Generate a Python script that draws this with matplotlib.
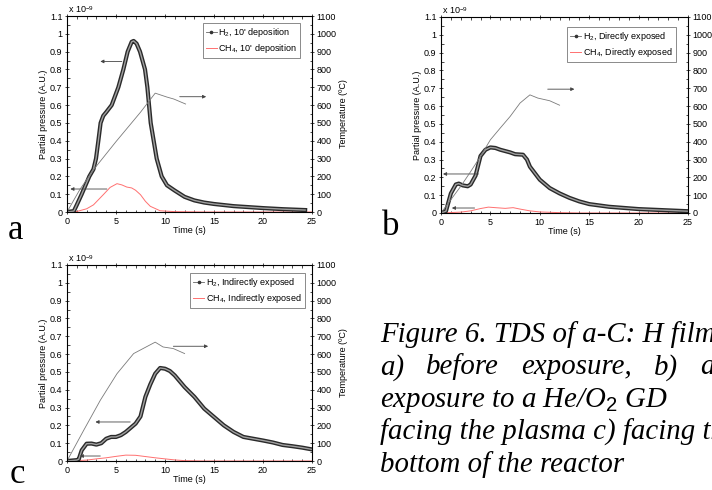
import numpy as np
import matplotlib.pyplot as plt
import matplotlib.patheffects as pe
from matplotlib.lines import Line2D
from matplotlib.ticker import MultipleLocator

plt.rcParams['font.family'] = ['Liberation Sans', 'DejaVu Sans']
plt.rcParams['font.size'] = 6.5
plt.rcParams['mathtext.fontset'] = 'custom'
plt.rcParams['mathtext.rm'] = 'Liberation Sans'
plt.rcParams['mathtext.it'] = 'Liberation Serif:italic'
plt.rcParams['mathtext.sf'] = 'Liberation Sans'

# ---- panel a : 10' deposition
t_h2_a = [0, 0.7, 1.0, 1.5, 2.28, 2.7, 2.96, 3.2, 3.43, 3.7, 4.0, 4.56, 5.24, 5.75,
          6.19, 6.6, 6.8, 7.1, 7.45, 7.96, 8.2, 8.54, 9.15, 9.66, 10.2, 11, 12, 13,
          14, 15, 17, 20, 22, 24.3]
h2_a = [0, 0.005, 0.04, 0.1, 0.2, 0.24, 0.3, 0.4, 0.5, 0.54, 0.56, 0.6, 0.7, 0.8,
        0.9, 0.955, 0.96, 0.945, 0.9, 0.8, 0.7, 0.5, 0.3, 0.2, 0.15, 0.12, 0.085,
        0.065, 0.053, 0.045, 0.033, 0.022, 0.016, 0.011]
t_ch4_a = [0, 1, 2, 2.7, 3.7, 4.4, 5.1, 5.6, 6.1, 6.6, 7.0, 7.5, 8.0, 8.5, 9.5, 11, 14, 25]
ch4_a = [0, 0.003, 0.018, 0.04, 0.097, 0.138, 0.159, 0.152, 0.14, 0.135, 0.122,
         0.097, 0.06, 0.032, 0.007, 0.002, 0, 0]
t_temp_a = [0, 1.3, 2.7, 5, 7.5, 9, 10.2, 10.9, 12.1]
temp_a = [0, 125, 237, 395, 560, 667, 645, 634, 606]

# ---- panel b : directly exposed
t_h2_b = [0, 0.5, 1, 1.5, 1.8, 2.2, 2.7, 3, 3.5, 4, 4.5, 5, 5.5, 6, 7, 7.5, 8.3,
          8.7, 9, 10, 11, 12, 13, 14, 15, 17, 20, 25]
h2_b = [0, 0.01, 0.11, 0.16, 0.165, 0.155, 0.15, 0.16, 0.21, 0.32, 0.355, 0.368,
        0.365, 0.355, 0.34, 0.33, 0.327, 0.30, 0.26, 0.187, 0.14, 0.11, 0.085,
        0.065, 0.05, 0.035, 0.022, 0.01]
t_ch4_b = [0, 2, 3, 4, 4.8, 5.5, 6.5, 7.3, 8, 9, 10, 12, 14, 25]
ch4_b = [0, 0.005, 0.012, 0.025, 0.033, 0.03, 0.026, 0.03, 0.022, 0.012, 0.006,
         0.002, 0, 0]
t_temp_b = [0, 1, 2, 2.9, 4, 5, 6, 7, 8, 9, 9.8, 11, 12]
temp_b = [0, 75, 150, 224, 318, 411, 477, 542, 617, 663, 645, 630, 605]

# ---- panel c : indirectly exposed
t_h2_c = [0, 1, 1.2, 1.5, 2, 2.5, 3, 3.5, 4, 4.5, 5, 5.5, 6, 7, 7.5, 8, 8.5, 9,
          9.5, 10, 10.5, 11, 12, 13, 14, 15, 16, 17, 18, 19, 20, 21, 22, 23, 24, 25]
h2_c = [0, 0.005, 0.01, 0.06, 0.097, 0.098, 0.092, 0.1, 0.125, 0.135, 0.135,
        0.145, 0.163, 0.21, 0.25, 0.36, 0.43, 0.49, 0.522, 0.518, 0.505, 0.48,
        0.415, 0.36, 0.294, 0.247, 0.2, 0.163, 0.135, 0.125, 0.115, 0.104, 0.09,
        0.083, 0.075, 0.065]
t_ch4_c = [0, 2, 3, 4, 5, 6, 7, 8, 9, 10, 11, 12, 14, 25]
ch4_c = [0, 0.005, 0.012, 0.018, 0.026, 0.033, 0.032, 0.025, 0.018, 0.012, 0.006,
         0.002, 0, 0]
t_temp_c = [0, 1.7, 3.4, 5.1, 6.8, 9, 9.8, 10.85, 12]
temp_c = [0, 172, 341, 490, 603, 667, 640, 631, 603]

y_ticks = [0, 0.1, 0.2, 0.3, 0.4, 0.5, 0.6, 0.7, 0.8, 0.9, 1, 1.1]
y_ticklabels = ['0', '0.1', '0.2', '0.3', '0.4', '0.5', '0.6', '0.7', '0.8', '0.9', '1', '1.1']


def px_rect(l, t, r, b):
    return [l / 712, 1 - b / 490, (r - l) / 712, (b - t) / 490]


def arrow(ax, tail, head):
    ax.annotate('', xy=head, xytext=tail,
                arrowprops=dict(arrowstyle='-|>', color='#444444', lw=0.6,
                                mutation_scale=5, shrinkA=0, shrinkB=0))


def panel(rect, t_h2, h2, t_ch4, ch4, t_temp, temp, name, left_arrows, right_arrows, leg_off):
    ax = fig.add_axes(rect)
    ax.plot(t_h2, h2, color='#a0a0a0', lw=1.0, zorder=3,
            path_effects=[pe.Stroke(linewidth=3.0, foreground='#2a2a2a'), pe.Normal()])
    ax.plot(t_ch4, ch4, color='#ff7070', lw=0.7, zorder=2)
    ax.set_xlim(0, 25)
    ax.set_ylim(0, 1.1)
    ax.set_xticks([0, 5, 10, 15, 20, 25])
    ax.set_yticks(y_ticks)
    ax.set_yticklabels(y_ticklabels)
    ax.xaxis.set_minor_locator(MultipleLocator(1))
    ax.yaxis.set_minor_locator(MultipleLocator(0.05))
    ax.tick_params(which='major', direction='inout', length=3.5, width=0.5, pad=1.5,
                   top=True, labelsize=6.5)
    ax.tick_params(which='minor', direction='in', length=1.8, width=0.5, top=True)
    ax.set_xlabel('Time (s)', labelpad=0.5)
    ax.set_ylabel('Partial pressure (A.U.)', labelpad=1)
    ax.text(0.005, 1.005, r'x 10$^{-9}$', transform=ax.transAxes, fontsize=6.5,
            ha='left', va='bottom')
    for sp in ax.spines.values():
        sp.set_linewidth(0.6)

    ax2 = ax.twinx()
    ax2.plot(t_temp, temp, color='#7a7a7a', lw=0.6)
    ax2.set_ylim(0, 1100)
    ax2.set_yticks(np.arange(0, 1101, 100))
    ax2.yaxis.set_minor_locator(MultipleLocator(50))
    ax2.tick_params(which='major', direction='inout', length=3.5, width=0.5, pad=1.5,
                    labelsize=6.5)
    ax2.tick_params(which='minor', direction='in', length=1.8, width=0.5)
    ax2.set_ylabel('Temperature (ºC)', labelpad=2)

    for tail, head in left_arrows:
        arrow(ax, tail, head)
    for tail, head in right_arrows:
        arrow(ax, tail, head)

    handles = [Line2D([], [], color='#666666', lw=0.6, marker='o', ms=1.6,
                      mfc='#333333', mec='#333333'),
               Line2D([], [], color='#ff7070', lw=0.7)]
    labels = ['H$_2$, ' + name, 'CH$_4$, ' + name]
    w, h = rect[2] * 712, rect[3] * 490
    ax2.legend(handles, labels, loc='upper right',
               bbox_to_anchor=(1 - leg_off[0] / w, 1 - leg_off[1] / h),
               borderaxespad=0, fancybox=False, edgecolor='#777777', framealpha=1,
               handlelength=1.2, handletextpad=0.2, borderpad=0.35, labelspacing=0.3,
               fontsize=6.5).get_frame().set_linewidth(0.6)
    return ax


fig = plt.figure(figsize=(7.12, 4.9), dpi=100)

panel(px_rect(67, 16, 312, 212), t_h2_a, h2_a, t_ch4_a, ch4_a, t_temp_a, temp_a,
      "10' deposition",
      [((5.6, 0.845), (3.4, 0.845)), ((4.07, 0.129), (0.34, 0.129))],
      [((11.5, 0.647), (14.2, 0.647))], (12, 7))
panel(px_rect(441, 17, 688, 213), t_h2_b, h2_b, t_ch4_b, ch4_b, t_temp_b, temp_b,
      'Directly exposed',
      [((3.8, 0.219), (0.2, 0.219)), ((3.4, 0.028), (1.1, 0.028))],
      [((10.8, 0.695), (13.5, 0.695))], (12, 10))
panel(px_rect(67, 265, 312, 461), t_h2_c, h2_c, t_ch4_c, ch4_c, t_temp_c, temp_c,
      'Indirectly exposed',
      [((6.45, 0.219), (2.9, 0.219)), ((3.4, 0.028), (1.3, 0.028))],
      [((10.85, 0.644), (14.4, 0.644))], (7, 8))

# panel letters
serif = ['Liberation Serif', 'DejaVu Serif']
for letter, x, y in [('a', 8, 239), ('b', 382, 235), ('c', 10, 483)]:
    fig.text(x / 712, 1 - y / 490, letter, family=serif, fontsize=25, ha='left',
             va='baseline')

# caption
cap = dict(family=serif, style='italic', fontsize=20.8, ha='left', va='baseline')
fig.text(380 / 712, 1 - 342 / 490, 'Figure 6. TDS of a-C: H films', **cap)

# justified second line: equal gaps between words, last word starting at x=700
renderer = fig.canvas.get_renderer()
words = ['a)', 'before', 'exposure,', 'b)']
texts = [fig.text(0, 1 - 374.5 / 490, wd, **cap) for wd in words]
widths = [t.get_window_extent(renderer).width for t in texts]
gap = (700 - 380 - sum(widths)) / len(words)
x = 380
for t, wd in zip(texts, widths):
    t.set_x(x / 712)
    x += wd + gap
fig.text(700 / 712, 1 - 374.5 / 490, 'after', **cap)

fig.text(380 / 712, 1 - 407 / 490, r'exposure to a He/O$_{\mathit{2}}$ GD', **cap)
fig.text(380 / 712, 1 - 439.5 / 490, 'facing the plasma c) facing the', **cap)
fig.text(380 / 712, 1 - 472 / 490, 'bottom of the reactor', **cap)

fig.savefig('out.png', dpi=100)
